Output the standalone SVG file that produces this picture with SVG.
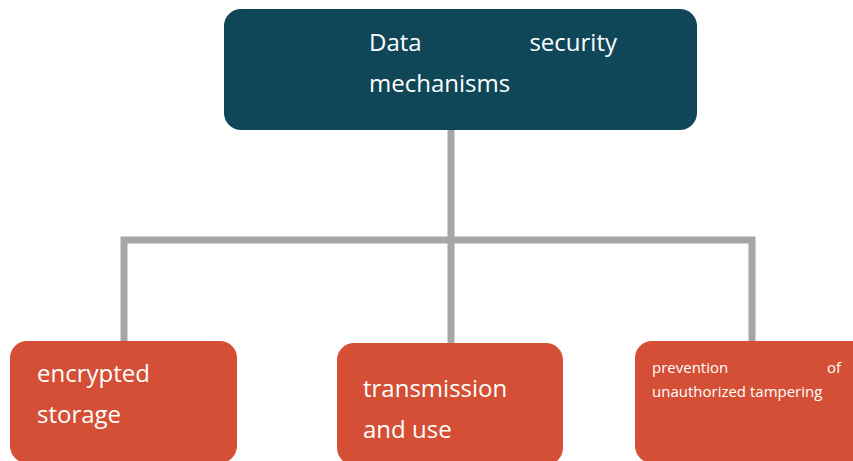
<svg xmlns="http://www.w3.org/2000/svg" width="853" height="461" viewBox="0 0 853 461">
<style>
.t{font-family:"Open Sans","Noto Sans","Liberation Sans",sans-serif;fill:#ffffff}
.big{font-size:24px}
.small{font-size:15px}
.c{fill:none;stroke:#a6a6a6;stroke-width:7}
</style>
<rect width="853" height="461" fill="#ffffff"/>
<g id="connectors">
<line class="c" x1="451" y1="128" x2="451" y2="345"/>
<polyline class="c" points="124,345 124,240 752,240 752,345"/>
</g>
<g id="root">
<rect x="224" y="9" width="473" height="121" rx="17" fill="#0f4759"/>
<text class="t big" x="369" y="51">Data</text>
<text class="t big" x="617" y="51" text-anchor="end">security</text>
<text class="t big" x="369" y="92">mechanisms</text>
</g>
<g id="encrypted-storage">
<rect x="10" y="341" width="227" height="122" rx="17" fill="#d44f35"/>
<text class="t big" x="37" y="382">encrypted</text>
<text class="t big" x="37" y="423">storage</text>
</g>
<g id="transmission-and-use">
<rect x="337" y="343" width="226" height="122" rx="17" fill="#d44f35"/>
<text class="t big" x="363" y="397">transmission</text>
<text class="t big" x="363" y="438">and use</text>
</g>
<g id="prevention">
<rect x="635" y="341" width="240" height="122" rx="17" fill="#d44f35"/>
<text class="t small" x="652" y="373">prevention</text>
<text class="t small" x="841" y="373" text-anchor="end">of</text>
<text class="t small" x="652" y="397">unauthorized tampering</text>
</g>
</svg>
